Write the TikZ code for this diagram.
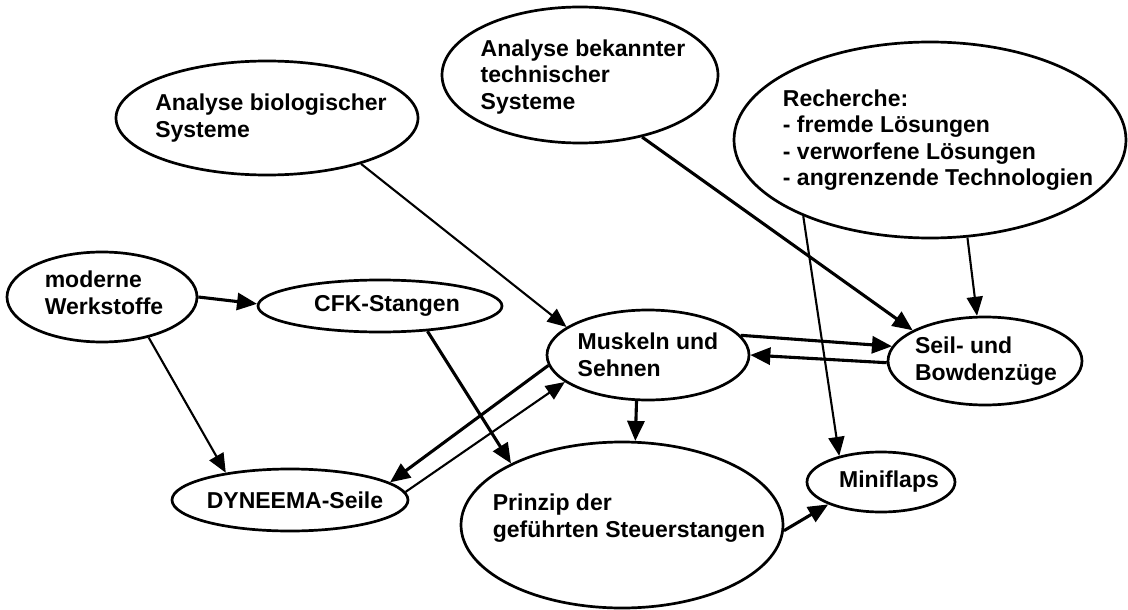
\documentclass[tikz,border=0pt]{standalone}
\usepackage{fontspec}
\setmainfont{Liberation Sans}
\usetikzlibrary{shapes.geometric,arrows.meta}

\tikzset{
  blob/.style={draw,ellipse,line width=2.7pt,inner sep=0pt},
  txt/.style={align=left,inner sep=0pt,font=\fontsize{23}{26.5}\selectfont\bfseries},
  heavy/.style={line width=3.1pt,-{Triangle[length=20pt,width=17pt]}},
  light/.style={line width=2.1pt,-{Triangle[length=19pt,width=16pt]}},
}

\begin{document}
\begin{tikzpicture}[x=1pt,y=-1pt]
\useasboundingbox (0,0) rectangle (1128,610);

% ellipses
\node[blob,minimum width=302pt,minimum height=114pt] (bio) at (267,118) {};
\node[blob,minimum width=276pt,minimum height=136pt] (tech) at (580,75) {};
\node[blob,minimum width=392pt,minimum height=196pt] (rech) at (930,140) {};
\node[blob,minimum width=194pt,minimum height=88pt] (seil) at (985,361) {};
\node[blob,minimum width=202pt,minimum height=90pt] (musk) at (648,355) {};
\node[blob,minimum width=322pt,minimum height=166pt] (prin) at (622,525) {};
\node[blob,minimum width=148pt,minimum height=60pt] (mini) at (881,482) {};
\node[blob,minimum width=190pt,minimum height=90pt] (mod) at (102,297) {};
\node[blob,minimum width=244pt,minimum height=52pt] (cfk) at (380,306) {};
\node[blob,minimum width=236pt,minimum height=62pt] (dyn) at (290,500) {};

% texts
\node[txt] (bio-t) at ([xshift=4pt]bio.center) {Analyse biologischer\\Systeme};
\node[txt] (tech-t) at ([xshift=3pt,yshift=-2pt]tech.center) {Analyse bekannter\\technischer\\Systeme};
\node[txt] (rech-t) at ([xshift=8pt]rech.center) {Recherche:\\- fremde Lösungen\\- verworfene Lösungen\\- angrenzende Technologien};
\node[txt] (seil-t) at ([xshift=1pt]seil.center) {Seil- und\\Bowdenzüge};
\node[txt] (musk-t) at (musk.center) {Muskeln und\\Sehnen};
\node[txt] (prin-t) at ([xshift=7pt,yshift=7pt]prin.center) {Prinzip der\\geführten Steuerstangen};
\node[txt] (mini-t) at ([xshift=8pt]mini.center) {Miniflaps};
\node[txt] (mod-t) at ([xshift=2pt,yshift=4pt]mod.center) {moderne\\Werkstoffe};
\node[txt] (cfk-t) at ([xshift=7pt]cfk.center) {CFK-Stangen};
\node[txt] (dyn-t) at ([xshift=5pt]dyn.center) {DYNEEMA-Seile};

% arrows
\draw[heavy] (mod.0) -- (cfk.179);
\draw[light] (mod.-41) -- (dyn.157);
\draw[heavy] (cfk.-28) -- (prin.151);
\draw[heavy] (musk.186) -- (dyn.10);
\draw[light] (dyn.4) -- (musk.198);
\draw[light] (bio.-26) -- (musk.161);
\draw[heavy] (tech.-45) -- (seil.157);
\draw[light] (rech.-69) -- (seil.100);
\draw[light] (rech.211) -- (mini.148);
\draw[heavy] (musk.12) -- (seil.171);
\draw[heavy] (seil.181) -- (musk.0);
\draw[heavy] (musk.256) -- (prin.81);
\draw[heavy] (prin.-2) -- (mini.203);

\end{tikzpicture}
\end{document}
